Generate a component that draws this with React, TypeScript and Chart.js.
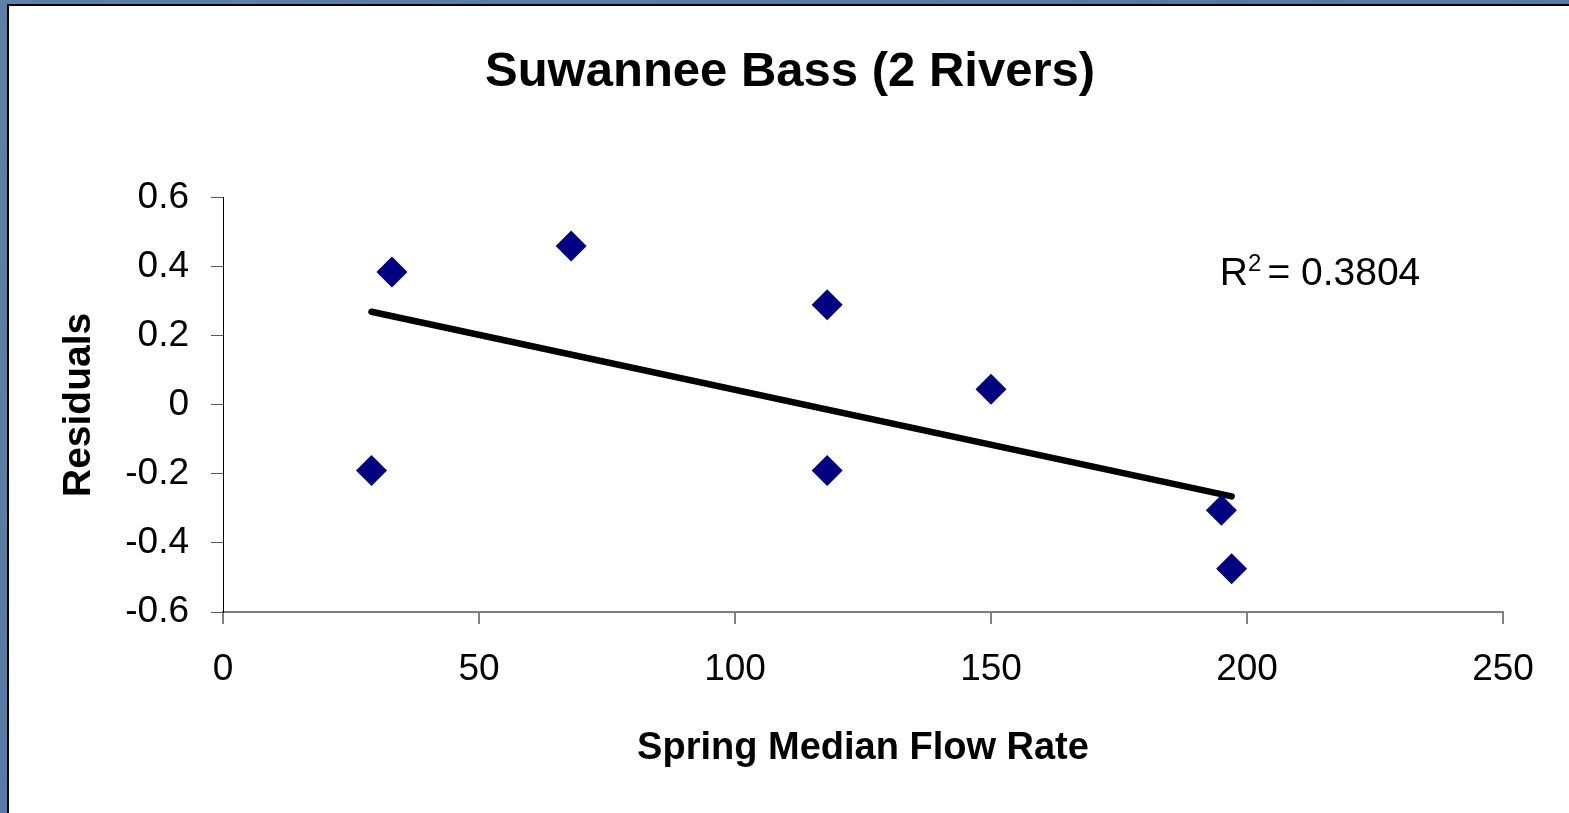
import React, { useEffect, useRef } from "react";
import { Chart, registerables } from "chart.js";

Chart.register(...registerables);

// ---- Data ----
const flowRate = [29, 33, 68, 118, 118, 150, 195, 197];
const residuals = [-0.19, 0.385, 0.46, 0.29, -0.19, 0.045, -0.305, -0.475];
const trendFlow = [29, 197];
const trendResidual = [0.27, -0.265];
const xTicks = [0, 50, 100, 150, 200, 250];
const xTickLabels = ["0", "50", "100", "150", "200", "250"];
const yTicks = [-0.6, -0.4, -0.2, 0, 0.2, 0.4, 0.6];
const yTickLabels = ["-0.6", "-0.4", "-0.2", "0", "0.2", "0.4", "0.6"];
const rSquaredText = "= 0.3804";
const rSquaredAt = { x: 194.7, y: 0.385 };

const titleText = "Suwannee Bass (2 Rivers)";
const xTitleText = "Spring Median Flow Rate";
const yTitleText = "Residuals";

const FONT = "'Liberation Sans', Arial, Helvetica, sans-serif";

const r2Plugin = {
  id: "r2Label",
  afterDatasetsDraw(chart: any) {
    const { ctx, scales } = chart;
    const px = scales.x.getPixelForValue(rSquaredAt.x);
    const py = scales.y.getPixelForValue(rSquaredAt.y);
    ctx.save();
    ctx.fillStyle = "#000";
    ctx.textAlign = "left";
    ctx.textBaseline = "alphabetic";
    const baseline = py + 13;
    ctx.font = `39px ${FONT}`;
    ctx.fillText("R", px, baseline);
    const rw = ctx.measureText("R").width;
    ctx.font = `24px ${FONT}`;
    ctx.fillText("2", px + rw, baseline - 14);
    const sw = ctx.measureText("2").width;
    ctx.font = `39px ${FONT}`;
    ctx.fillText(rSquaredText, px + rw + sw + 6, baseline);
    ctx.restore();
  },
};

export default function App() {
  const ref = useRef<HTMLCanvasElement | null>(null);

  useEffect(() => {
    if (!ref.current) return;
    const chart = new Chart(ref.current, {
      type: "scatter",
      data: {
        datasets: [
          {
            label: "Residuals",
            data: flowRate.map((x, i) => ({ x, y: residuals[i] })),
            pointStyle: "rectRot",
            pointRadius: 15.5,
            pointHoverRadius: 15.5,
            backgroundColor: "#000080",
            borderColor: "#000080",
            borderWidth: 0,
            showLine: false,
          },
          {
            label: "Trend",
            data: trendFlow.map((x, i) => ({ x, y: trendResidual[i] })),
            showLine: true,
            pointRadius: 0,
            borderColor: "#000",
            borderWidth: 6.5,
            borderCapStyle: "round",
            backgroundColor: "#000",
          } as any,
        ],
      },
      options: {
        responsive: false,
        devicePixelRatio: 1,
        animation: false,
        layout: { padding: { left: 77, right: 66, top: 0, bottom: 0 } },
        plugins: {
          legend: { display: false },
          tooltip: { enabled: false },
          title: {
            display: true,
            text: titleText,
            color: "#000",
            font: { family: FONT, size: 49, weight: "bold" },
            padding: { top: 43, bottom: 96 },
          },
        },
        scales: {
          x: {
            type: "linear",
            min: 0,
            max: 250,
            afterBuildTicks: (s: any) => {
              s.ticks = xTicks.map((v) => ({ value: v }));
            },
            afterFit: (s: any) => {
              s.height = 201;
            },
            ticks: {
              callback: (_v: any, i: number) => xTickLabels[i],
              color: "#000",
              font: { family: FONT, size: 37 },
              padding: 24,
              maxRotation: 0,
            },
            grid: { drawOnChartArea: false, tickLength: 12, color: "#808080", lineWidth: 2 },
            border: { color: "#808080", width: 2 },
            title: {
              display: true,
              text: xTitleText,
              color: "#000",
              font: { family: FONT, size: 38, weight: "bold" },
              padding: { top: 0, bottom: 42 },
            },
          },
          y: {
            type: "linear",
            min: -0.6,
            max: 0.6,
            afterBuildTicks: (s: any) => {
              s.ticks = yTicks.map((v) => ({ value: v }));
            },
            afterFit: (s: any) => {
              s.width = 146;
            },
            ticks: {
              callback: (_v: any, i: number) => yTickLabels[i],
              color: "#000",
              font: { family: FONT, size: 37 },
              padding: 22,
            },
            grid: { drawOnChartArea: false, tickLength: 12, color: "#595959", lineWidth: 1 },
            border: { color: "#000", width: 1 },
            title: {
              display: true,
              text: yTitleText,
              color: "#000",
              font: { family: FONT, size: 39, weight: "bold", lineHeight: 0.1 },
              padding: 0,
            },
          },
        },
      } as any,
      plugins: [r2Plugin],
    });
    return () => chart.destroy();
  }, []);

  return (
    <div
      style={{
        position: "fixed",
        left: 0,
        top: 0,
        width: 1569,
        height: 813,
        overflow: "hidden",
        background: "linear-gradient(135deg, #5e80a6 0%, #5677a0 50%, #5c7ea5 100%)",
      }}
    >
      <div
        style={{
          position: "absolute",
          left: 7,
          top: 4,
          right: -10,
          bottom: -10,
          background: "#fff",
          borderLeft: "2px solid #000",
          borderTop: "2px solid #000",
        }}
      />
      <div style={{ position: "absolute", left: 0, top: 0, width: 1569, height: 813 }}>
        <canvas ref={ref} width={1569} height={813} style={{ display: "block" }} />
      </div>
    </div>
  );
}
